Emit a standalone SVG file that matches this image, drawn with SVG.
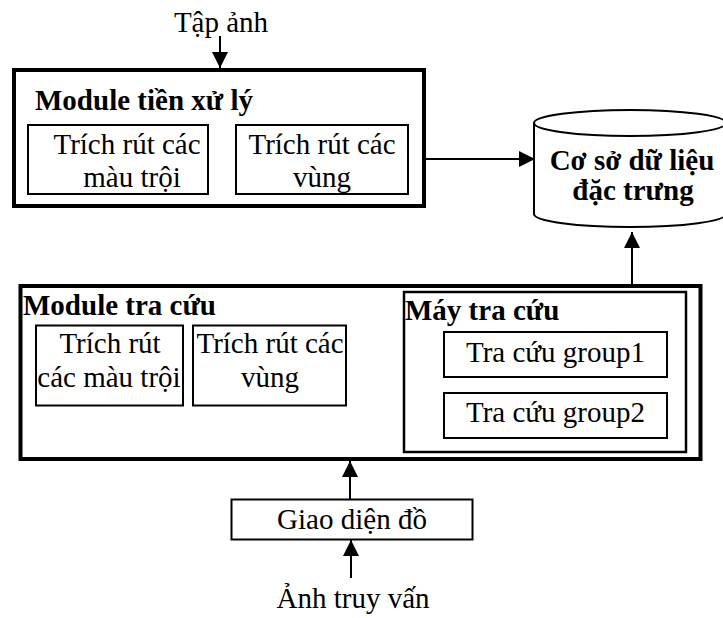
<svg xmlns="http://www.w3.org/2000/svg" width="723" height="618" viewBox="0 0 723 618">
<defs>
<marker id="ah" viewBox="0 0 16 16" refX="16" refY="8" markerWidth="16" markerHeight="16" markerUnits="userSpaceOnUse" orient="auto">
<path d="M0,0 L16,8 L0,16 Z" fill="#000"/>
</marker>
</defs>
<style>
text{font-family:'Liberation Serif','Times New Roman','DejaVu Serif',serif;font-size:29px;fill:#000}
.b{font-weight:bold}
.m{text-anchor:middle}
.outer{fill:#fff;stroke:#000;stroke-width:4}
.inner{fill:#fff;stroke:#000;stroke-width:2}
.mid{fill:#fff;stroke:#000;stroke-width:2.5}
.conn{stroke:#000;stroke-width:2;fill:none}
</style>
<rect width="723" height="618" fill="#fff"/>
<g id="tap-anh"><text class="m" x="221" y="32">Tập ảnh</text></g>
<g id="module-tien-xu-ly">
<rect class="outer" x="14" y="70" width="410" height="136"/>
<text class="b" x="35" y="110">Module tiền xử lý</text>
</g>
<g id="trich-mau-1">
<rect class="inner" x="28" y="125" width="180" height="69"/>
<text class="m" x="127" y="154">Trích rút các</text>
<text class="m" x="132" y="187">màu trội</text>
</g>
<g id="trich-vung-1">
<rect class="inner" x="236" y="125" width="172" height="69"/>
<text class="m" x="322" y="154">Trích rút các</text>
<text class="m" x="322" y="187">vùng</text>
</g>
<g id="csdl">
<path d="M534,123 L534,214 A96,13 0 0 0 726,214 L726,123" fill="#fff" stroke="#000" stroke-width="2"/>
<ellipse cx="630" cy="123" rx="96" ry="13" fill="#fff" stroke="#000" stroke-width="2"/>
<text class="b m" x="632" y="170">Cơ sở dữ liệu</text>
<text class="b m" x="633" y="200">đặc trưng</text>
</g>
<g id="module-tra-cuu">
<rect class="outer" x="20.5" y="286" width="680" height="173"/>
<text class="b" x="23" y="315">Module tra cứu</text>
</g>
<g id="trich-mau-2">
<rect class="inner" x="36" y="325.5" width="147" height="80"/>
<text class="m" x="110" y="353">Trích rút</text>
<text class="m" x="109" y="387">các màu trội</text>
</g>
<g id="trich-vung-2">
<rect class="inner" x="193" y="325.5" width="153" height="80"/>
<text class="m" x="270" y="353">Trích rút các</text>
<text class="m" x="270" y="387">vùng</text>
</g>
<g id="may-tra-cuu">
<rect class="mid" x="404" y="292" width="282" height="160"/>
<text class="b" x="405" y="320">Máy tra cứu</text>
</g>
<g id="group1">
<rect class="inner" x="444" y="332" width="223" height="45"/>
<text class="m" x="555.5" y="362">Tra cứu group1</text>
</g>
<g id="group2">
<rect class="inner" x="444" y="393" width="223" height="45"/>
<text class="m" x="555.5" y="422">Tra cứu group2</text>
</g>
<g id="giao-dien">
<rect class="inner" x="231.5" y="499.5" width="241" height="40"/>
<text class="m" x="352" y="529">Giao diện đồ</text>
</g>
<g id="anh-truy-van"><text class="m" x="353" y="608">Ảnh truy vấn</text></g>
<g id="connectors">
<line class="conn" x1="220" y1="36" x2="220" y2="68" marker-end="url(#ah)"/>
<line class="conn" x1="426" y1="159" x2="535" y2="159" marker-end="url(#ah)"/>
<line class="conn" x1="632" y1="284" x2="632" y2="232" marker-end="url(#ah)"/>
<line class="conn" x1="350" y1="499" x2="350" y2="461" marker-end="url(#ah)"/>
<line class="conn" x1="351" y1="578" x2="351" y2="540" marker-end="url(#ah)"/>
</g>
</svg>
